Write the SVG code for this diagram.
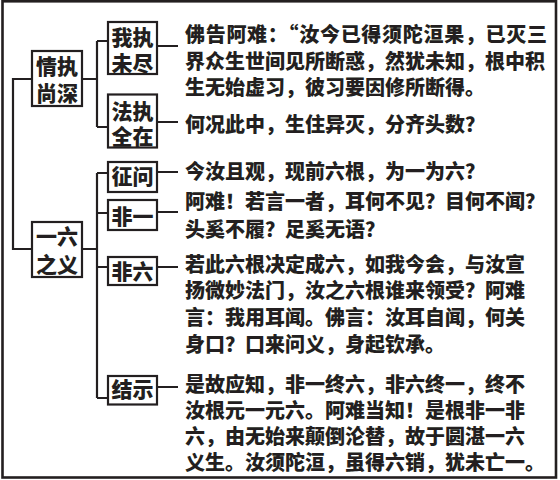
<svg xmlns="http://www.w3.org/2000/svg" width="560" height="480" viewBox="0 0 560 480">
<style>
.frame{fill:#fff;stroke:#231f20;stroke-width:2.6}
.box{fill:#fff;stroke:#231f20;stroke-width:2.2}
.lbl{font-family:"Noto Sans CJK SC","Noto Sans CJK TC",sans-serif;font-weight:900;font-size:21px;fill:#231f20;text-anchor:middle}
.txt{font-family:"Noto Sans CJK SC","Noto Sans CJK TC",sans-serif;font-weight:900;font-size:20px;fill:#231f20}
.con{fill:none;stroke:#231f20;stroke-width:2.2}
</style>
<rect class="frame" x="2.5" y="1.3" width="553.5" height="476.2"/>
<g id="connectors">
<path class="con" d="M32,79 H13 V249 H32"/>
<path class="con" d="M82,79 H97 M97,41 V127 M97,41 H108 M97,127 H108"/>
<path class="con" d="M82,249 H97 M97,173 V398 M97,173 H108 M97,213 H108 M97,267 H108 M97,398 H108"/>
<path class="con" d="M157,46 H178 M157,122 H178 M157,172 H178 M157,212 H178 M157,267 H178 M157,387 H178"/>
</g>
<g id="qingzhi">
<rect class="box" x="32" y="51" width="50" height="55"/>
<text class="lbl" x="57" y="73.5">情执</text>
<text class="lbl" x="57" y="100.5">尚深</text>
</g>
<g id="yiliu">
<rect class="box" x="32" y="222" width="50" height="55"/>
<text class="lbl" x="57" y="244">一六</text>
<text class="lbl" x="57" y="271.5">之义</text>
</g>
<g id="wozhi">
<rect class="box" x="108" y="22" width="49" height="52"/>
<text class="lbl" x="132.5" y="45">我执</text>
<text class="lbl" x="132.5" y="70.5">未尽</text>
</g>
<g id="fazhi">
<rect class="box" x="108" y="94.5" width="49" height="53"/>
<text class="lbl" x="132.5" y="118.5">法执</text>
<text class="lbl" x="132.5" y="143.5">全在</text>
</g>
<g id="zhengwen">
<rect class="box" x="108" y="162" width="49" height="30"/>
<text class="lbl" x="132.5" y="184">征问</text>
</g>
<g id="feiyi">
<rect class="box" x="108" y="200" width="49" height="30"/>
<text class="lbl" x="132.5" y="223.5">非一</text>
</g>
<g id="feiliu">
<rect class="box" x="108" y="257" width="49" height="28"/>
<text class="lbl" x="132.5" y="278.5">非六</text>
</g>
<g id="jieshi">
<rect class="box" x="108" y="376" width="49" height="28.5"/>
<text class="lbl" x="132.5" y="397">结示</text>
</g>
<g id="texts">
<text class="txt" x="185" y="42" textLength="362" lengthAdjust="spacing">佛告阿难：“汝今已得须陀洹果，已灭三</text>
<text class="txt" x="185" y="69">界众生世间见所断惑，然犹未知，根中积</text>
<text class="txt" x="185" y="95">生无始虚习，彼习要因修所断得。</text>
<text class="txt" x="185" y="132">何况此中，生住异灭，分齐头数？</text>
<text class="txt" x="185" y="179">今汝且观，现前六根，为一为六？</text>
<text class="txt" x="185" y="209">阿难！若言一者，耳何不见？目何不闻？</text>
<text class="txt" x="185" y="237">头奚不履？足奚无语？</text>
<text class="txt" x="185" y="272">若此六根决定成六，如我今会，与汝宣</text>
<text class="txt" x="185" y="298">扬微妙法门，汝之六根谁来领受？阿难</text>
<text class="txt" x="185" y="325">言：我用耳闻。佛言：汝耳自闻，何关</text>
<text class="txt" x="185" y="352">身口？口来问义，身起钦承。</text>
<text class="txt" x="185" y="392">是故应知，非一终六，非六终一，终不</text>
<text class="txt" x="185" y="418">汝根元一元六。阿难当知！是根非一非</text>
<text class="txt" x="185" y="444">六，由无始来颠倒沦替，故于圆湛一六</text>
<text class="txt" x="185" y="470">义生。汝须陀洹，虽得六销，犹未亡一。</text>
</g>
</svg>
